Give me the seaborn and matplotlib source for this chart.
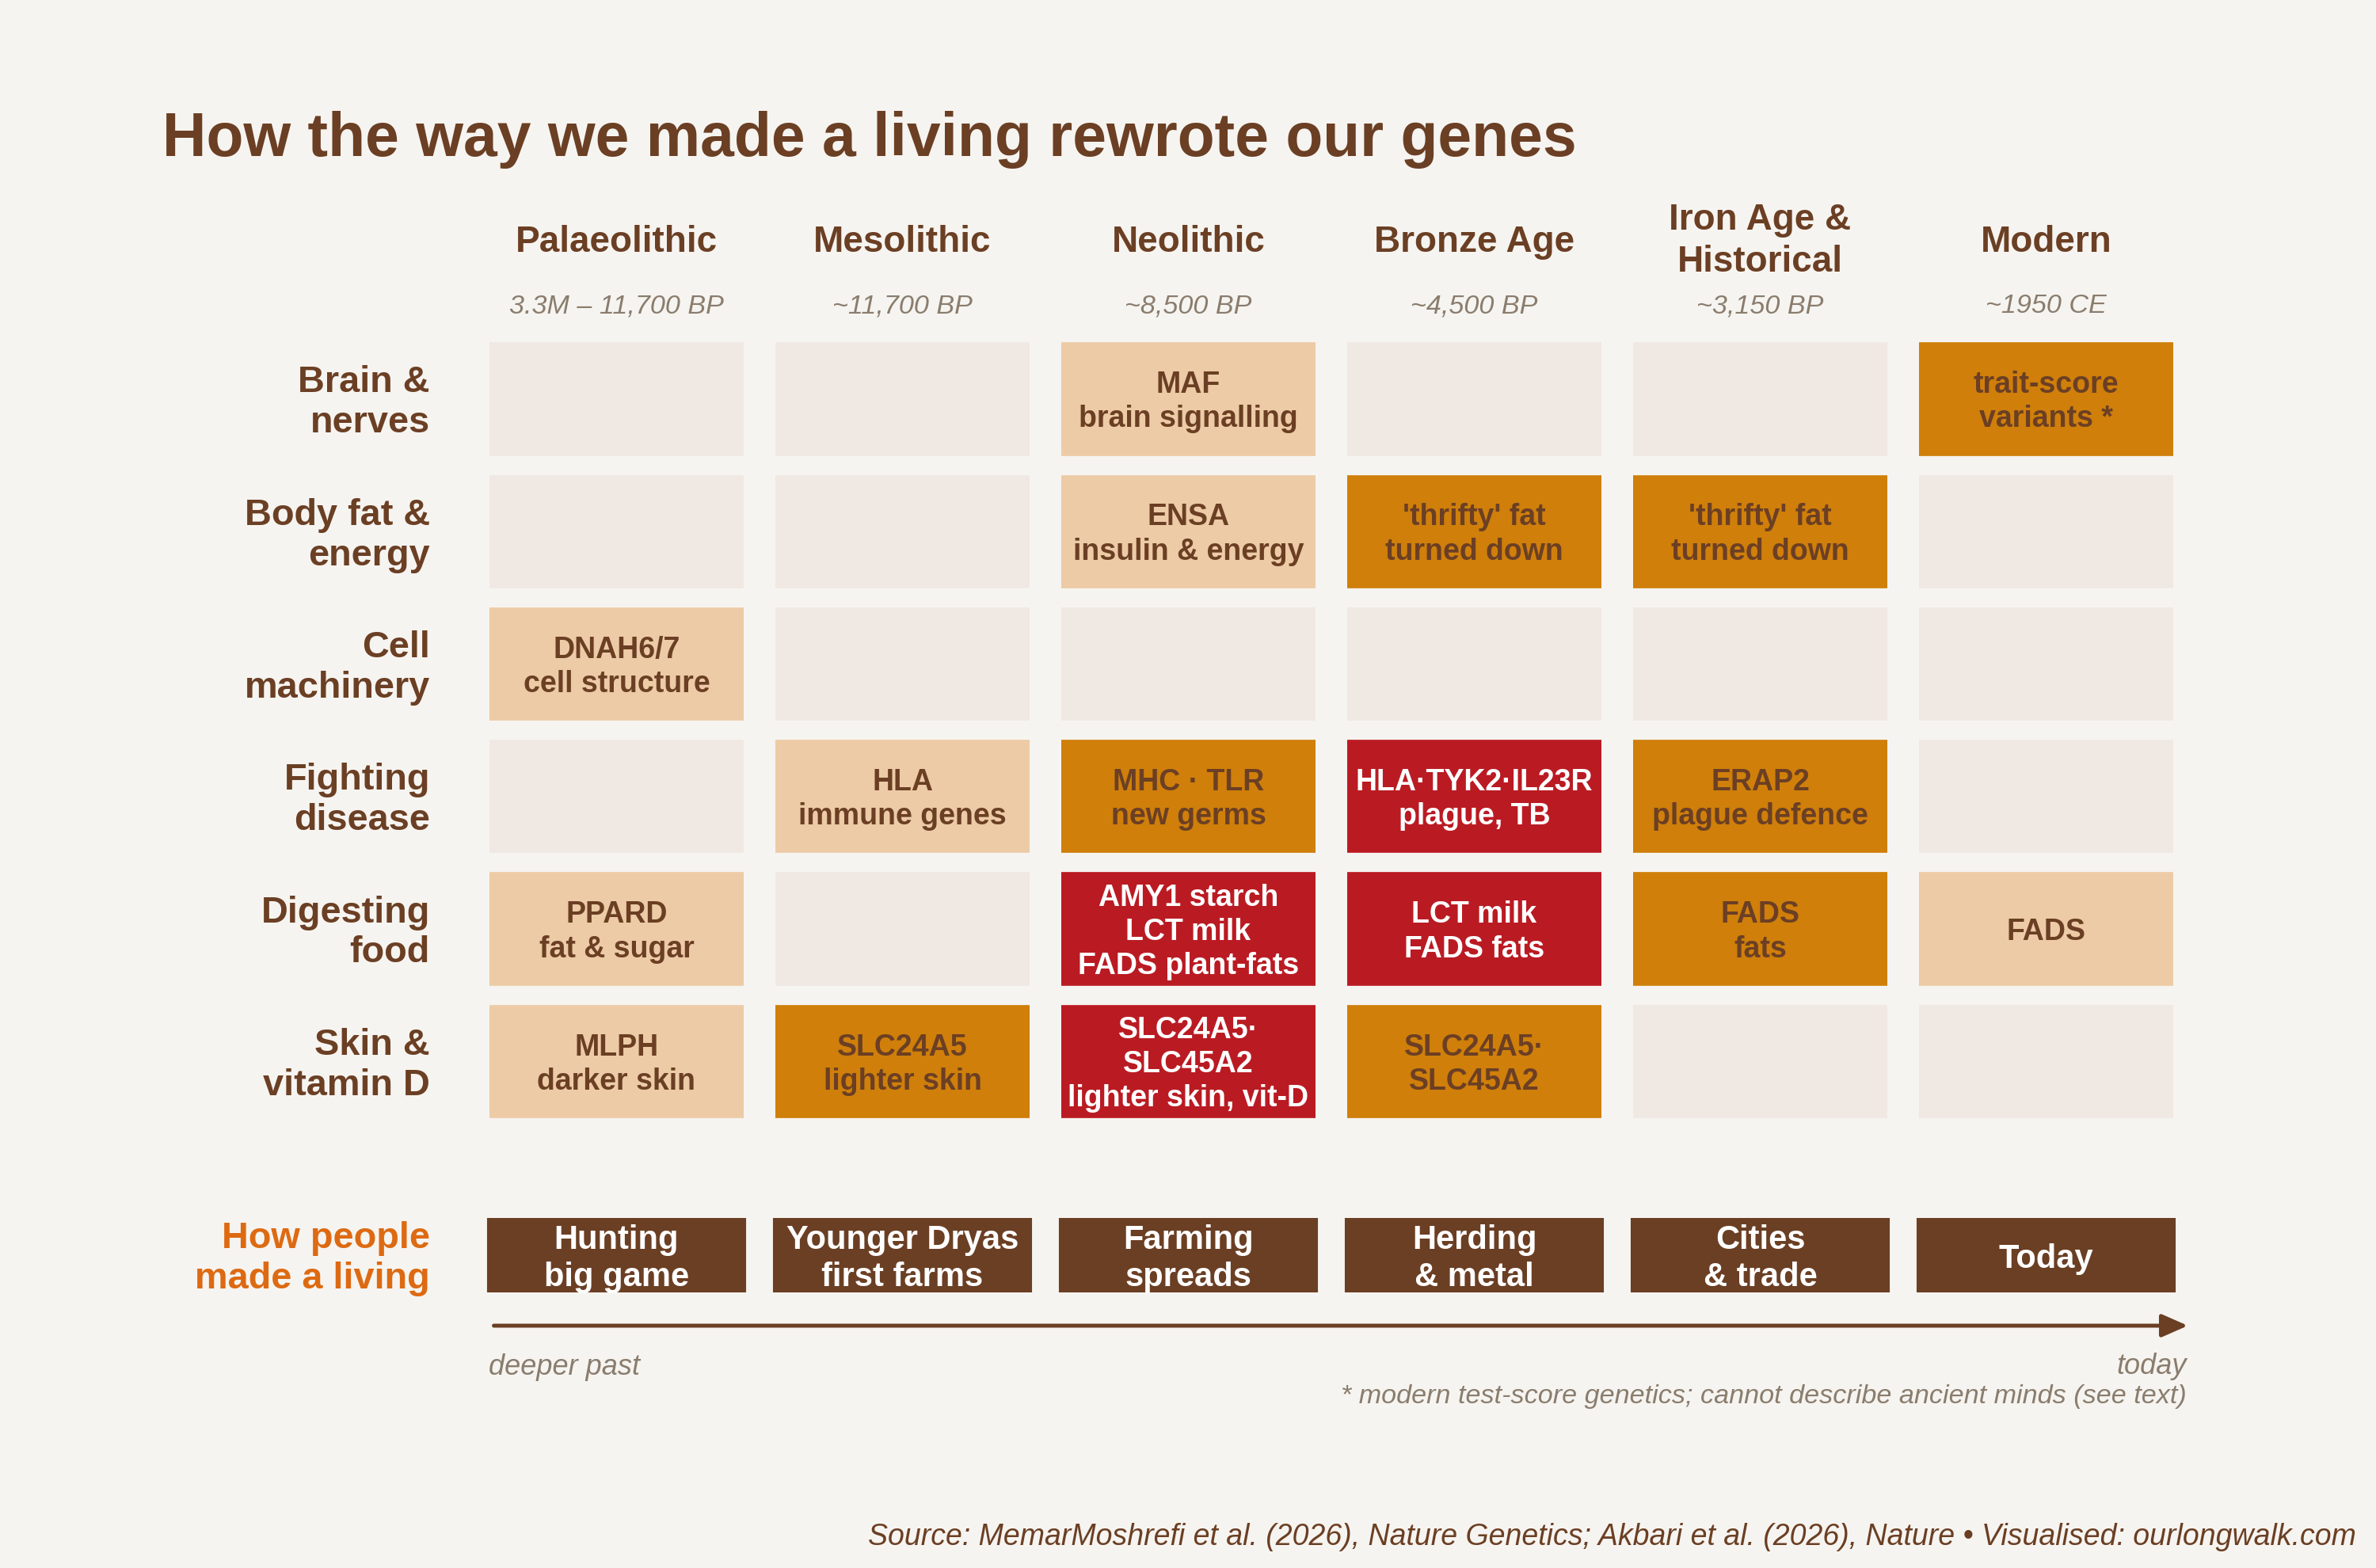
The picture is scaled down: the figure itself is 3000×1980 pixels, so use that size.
import numpy as np
import pandas as pd
import matplotlib
matplotlib.use("Agg")
import matplotlib.pyplot as plt
from matplotlib.colors import ListedColormap
from matplotlib.patches import FancyArrowPatch
import seaborn as sns

# ---------------- data ----------------
periods = ["Palaeolithic", "Mesolithic", "Neolithic", "Bronze Age",
           "Iron Age &\nHistorical", "Modern"]
dates = ["3.3M \u2013 11,700 BP", "~11,700 BP", "~8,500 BP", "~4,500 BP",
         "~3,150 BP", "~1950 CE"]
traits = ["Brain &\nnerves", "Body fat &\nenergy", "Cell\nmachinery",
          "Fighting\ndisease", "Digesting\nfood", "Skin &\nvitamin D"]
# strength of selection signal: 0 none, 1 weak, 2 moderate, 3 strong
brain = [0, 0, 1, 0, 0, 2]
bodyfat = [0, 0, 1, 2, 2, 0]
cellmach = [1, 0, 0, 0, 0, 0]
disease = [0, 1, 2, 3, 2, 0]
digest = [1, 0, 3, 3, 2, 1]
skin = [1, 2, 3, 2, 0, 0]

brain_lbl = ["", "", "MAF\nbrain signalling", "", "", "trait-score\nvariants *"]
bodyfat_lbl = ["", "", "ENSA\ninsulin & energy", "'thrifty' fat\nturned down",
               "'thrifty' fat\nturned down", ""]
cellmach_lbl = ["DNAH6/7\ncell structure", "", "", "", "", ""]
disease_lbl = ["", "HLA\nimmune genes", "MHC \u00b7 TLR\nnew germs",
               "HLA\u00b7TYK2\u00b7IL23R\nplague, TB", "ERAP2\nplague defence", ""]
digest_lbl = ["PPARD\nfat & sugar", "", "AMY1 starch\nLCT milk\nFADS plant-fats",
              "LCT milk\nFADS fats", "FADS\nfats", "FADS"]
skin_lbl = ["MLPH\ndarker skin", "SLC24A5\nlighter skin",
            "SLC24A5\u00b7\nSLC45A2\nlighter skin, vit-D", "SLC24A5\u00b7\nSLC45A2", "", ""]

livings = ["Hunting\nbig game", "Younger Dryas\nfirst farms", "Farming\nspreads",
           "Herding\n& metal", "Cities\n& trade", "Today"]

title = "How the way we made a living rewrote our genes"
source = ("Source: MemarMoshrefi et al. (2026), Nature Genetics; Akbari et al. (2026), "
          "Nature \u2022 Visualised: ourlongwalk.com")
footnote = "* modern test-score genetics; cannot describe ancient minds (see text)"

# ---------------- style ----------------
BG = "#F6F4F0"
EMPTY = "#F0E8E2"
LIGHT = "#ECCBA6"
ORANGE = "#CF7F0A"
RED = "#BA1B23"
BROWN = "#6B3F24"
GRAY = "#8A7D6E"
ACCENT = "#DD6A12"
LS = 1.2

sns.set_theme(style="white", rc={"figure.facecolor": BG, "axes.facecolor": BG})
plt.rcParams["font.family"] = ["Liberation Sans", "DejaVu Sans"]

W, H = 3000, 1980
fig = plt.figure(figsize=(15, 9.9), dpi=200)


def fx(px):
    return px / W


def fy(py):
    return 1 - py / H


# main grid axes
left, right, top, bottom = 598, 2764, 420.2, 1424.0
ax = fig.add_axes([fx(left), fy(bottom), fx(right - left), (bottom - top) / H])

levels = pd.DataFrame([brain, bodyfat, cellmach, disease, digest, skin],
                      index=traits, columns=periods)
labels = np.array([brain_lbl, bodyfat_lbl, cellmach_lbl, disease_lbl,
                   digest_lbl, skin_lbl], dtype=object)

sns.heatmap(levels, ax=ax, cmap=ListedColormap([EMPTY, LIGHT, ORANGE, RED]),
            vmin=-0.5, vmax=3.5, cbar=False, annot=labels, fmt="",
            xticklabels=False, yticklabels=False, linewidths=0,
            annot_kws=dict(fontsize=13.5, fontweight="bold", linespacing=1.26))

vals = levels.values
for t in ax.texts:
    x, y = t.get_position()
    v = vals[int(y - 0.5 + 0.01)][int(x - 0.5 + 0.01)]
    t.set_color("white" if v == 3 else BROWN)
    t.set_y(y + 0.023)

nrow, ncol = vals.shape
for i in range(ncol + 1):
    ax.axvline(i, color=BG, lw=14.4, zorder=2)
for j in range(nrow + 1):
    ax.axhline(j, color=BG, lw=8.75, zorder=2)
ax.set_xlim(0, ncol)
ax.set_ylim(nrow, 0)


def ydata(py):
    return (py - top) / ((bottom - top) / nrow)


# column headers + dates
for i, (p, d) in enumerate(zip(periods, dates)):
    yb = ydata(343) if "\n" in p else ydata(318)
    ax.text(i + 0.5, yb, p, ha="center", va="baseline", fontsize=16.5,
            fontweight="bold", color=BROWN, linespacing=1.25, clip_on=False)
    ax.text(i + 0.5, ydata(395), d, ha="center", va="baseline", fontsize=12.3,
            fontstyle="italic", color=GRAY, clip_on=False)

# row labels
xlab = (543 - left) / ((right - left) / ncol)
for j, tr in enumerate(traits):
    ax.text(xlab, j + 0.53, tr, ha="right", va="center", fontsize=16.9,
            fontweight="bold", color=BROWN, linespacing=LS, clip_on=False)

# bottom "how people made a living" track
btop, bbot = 1538, 1632
ax2 = fig.add_axes([fx(left), fy(bbot), fx(right - left), (bbot - btop) / H])
track = pd.DataFrame([[0] * len(livings)], columns=periods)
sns.heatmap(track, ax=ax2, cmap=ListedColormap([BROWN]), vmin=-0.5, vmax=0.5,
            cbar=False, annot=np.array([livings], dtype=object), fmt="",
            xticklabels=False, yticklabels=False, linewidths=0,
            annot_kws=dict(fontsize=15, fontweight="bold", linespacing=1.23,
                           color="white"))
for t in ax2.texts:
    t.set_color("white")
    t.set_y(t.get_position()[1] + 0.05)
for i in range(len(livings) + 1):
    ax2.axvline(i, color=BG, lw=12.2, zorder=2)
ax2.set_xlim(0, len(livings))
ax2.text(xlab, 0.55, "How people\nmade a living", ha="right", va="center",
         fontsize=16.9, fontweight="bold", color=ACCENT, linespacing=LS,
         clip_on=False)

# arrow
arr = FancyArrowPatch((fx(618), fy(1674)), (fx(2768), fy(1674)),
                      transform=fig.transFigure, arrowstyle="-|>,head_length=0.5,head_width=0.22",
                      mutation_scale=20, lw=1.8, color=BROWN)
fig.add_artist(arr)

fig.text(fx(617), fy(1736), "deeper past", ha="left", va="baseline", fontsize=13,
         fontstyle="italic", color=GRAY)
fig.text(fx(2761), fy(1735), "today", ha="right", va="baseline", fontsize=13,
         fontstyle="italic", color=GRAY)
fig.text(fx(2761), fy(1772), footnote, ha="right", va="baseline", fontsize=12.3,
         fontstyle="italic", color=GRAY)
fig.text(fx(2975), fy(1951), source, ha="right", va="baseline", fontsize=13.5,
         fontstyle="italic", color=BROWN)

# title
fig.text(fx(205), fy(197), title, ha="left", va="baseline", fontsize=27.7,
         fontweight="bold", color=BROWN)

fig.savefig("out.png", dpi=200, facecolor=BG)
